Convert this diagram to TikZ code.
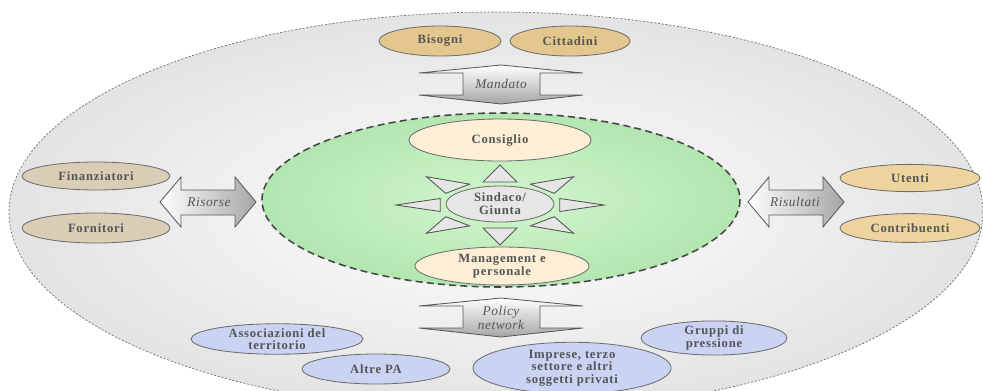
\documentclass[tikz,border=0pt]{standalone}
\usepackage{fontspec}
\setmainfont{Liberation Serif}
\usetikzlibrary{shapes.geometric}

\definecolor{labeltext}{HTML}{555555}
\definecolor{pillline}{HTML}{6E6E6E}
\definecolor{tanfill}{HTML}{E4C78E}
\definecolor{sandfill}{HTML}{D9CDB6}
\definecolor{goldfill}{HTML}{EDD49F}
\definecolor{creamfill}{HTML}{FCEFD6}
\definecolor{stonefill}{HTML}{E6E6E6}
\definecolor{lilacfill}{HTML}{CBD3F3}
\definecolor{councilin}{HTML}{D3F6CF}
\definecolor{councilout}{HTML}{B2E6AF}

\tikzset{
  pill/.style={ellipse, draw=pillline, line width=0.6pt, inner sep=0pt, align=center,
    text=labeltext, font=\fontsize{9}{9}\selectfont\bfseries\addfontfeature{LetterSpace=6}},
  flowarrow/.style={draw=gray!70!black, line width=0.6pt},
  arrowlabel/.style={text=labeltext, align=center,
    font=\fontsize{9.5}{10}\selectfont\itshape\addfontfeature{LetterSpace=4}},
  sunray/.style={fill=stonefill, draw=gray!65!black, line width=0.6pt}
}

\begin{document}
\begin{tikzpicture}[x=0.025cm, y=-0.025cm]

        \useasboundingbox (0,0) rectangle (983,390);

        % environment and council area
        \shadedraw[inner color=white, outer color=gray!22, draw=gray!90!black, line width=0.5pt,
          dash pattern=on 1.5pt off 1.2pt] (496,212) ellipse [x radius=487, y radius=200];
        \shadedraw[inner color=councilin, outer color=councilout, draw=gray!55!black,
          line width=1.1pt, dash pattern=on 5pt off 3pt] (501,200) ellipse [x radius=239, y radius=87];

        % flows
        \foreach \y in {65,298}
          \shadedraw[flowarrow, top color=white, bottom color=gray!70, shift={(0,\y)}]
            (501,0) -- (583,8) -- (540,8) -- (540,30) -- (583,30) -- (501,39)
            -- (419,30) -- (463,30) -- (463,8) -- (419,8) -- cycle;
        \foreach \x in {160,748}
          \shadedraw[flowarrow, left color=white, right color=gray!70, shift={(\x,0)}]
            (0,202) -- (21,177) -- (21,190) -- (75,190) -- (75,177) -- (96,202)
            -- (75,227) -- (75,215) -- (21,215) -- (21,227) -- cycle;

        \node[arrowlabel] (mandato) at (501,84) {Mandato};
        \node[arrowlabel] (policy) at (501,318) {Policy\\network};
        \node[arrowlabel] (risorse) at (209,202) {Risorse};
        \node[arrowlabel] (risultati) at (795,202) {Risultati};

        % rays round the mayor
        \begin{scope}[shift={(500,205)}, xscale=2.6]
          \foreach \a in {0,45,...,315}
            \filldraw[sunray, rotate=\a] (23,-6.5) -- (40,0) -- (23,6.5) -- cycle;
        \end{scope}

        % actors
        \node[pill, fill=tanfill, minimum width=3.05cm, minimum height=0.75cm] (bisogni) at (440,41) {Bisogni};
        \node[pill, fill=tanfill, minimum width=3.0cm, minimum height=0.75cm] (cittadini) at (570,41) {Cittadini};

        \node[pill, fill=sandfill, minimum width=3.7cm, minimum height=0.7cm] (finanziatori) at (96,176) {Finanziatori};
        \node[pill, fill=sandfill, minimum width=3.7cm, minimum height=0.75cm] (fornitori) at (96,228) {Fornitori};

        \node[pill, fill=goldfill, minimum width=3.5cm, minimum height=0.68cm] (utenti) at (910,178) {Utenti};
        \node[pill, fill=goldfill, minimum width=3.5cm, minimum height=0.72cm] (contribuenti) at (910,228) {Contribuenti};

        \node[pill, fill=creamfill, minimum width=4.55cm, minimum height=1.05cm] (consiglio) at (500,140) {Consiglio};
        \node[pill, fill=stonefill, minimum width=2.7cm, minimum height=0.9cm] (sindaco) at (500,204) {Sindaco/\\Giunta};
        \node[pill, fill=creamfill, minimum width=4.35cm, minimum height=0.95cm] (management) at (502,266) {Management e\\personale};

        \node[pill, fill=lilacfill, minimum width=4.3cm, minimum height=0.7cm] (associazioni) at (277,339) {Associazioni del\\territorio};
        \node[pill, fill=lilacfill, minimum width=3.7cm, minimum height=0.75cm] (altrepa) at (376,369) {Altre PA};
        \node[pill, fill=lilacfill, minimum width=4.95cm, minimum height=1.05cm] (imprese) at (572,368) {Imprese, terzo\\settore e altri\\soggetti privati};
        \node[pill, fill=lilacfill, minimum width=3.65cm, minimum height=0.8cm] (gruppi) at (714,338) {Gruppi di\\pressione};

\end{tikzpicture}
\end{document}
